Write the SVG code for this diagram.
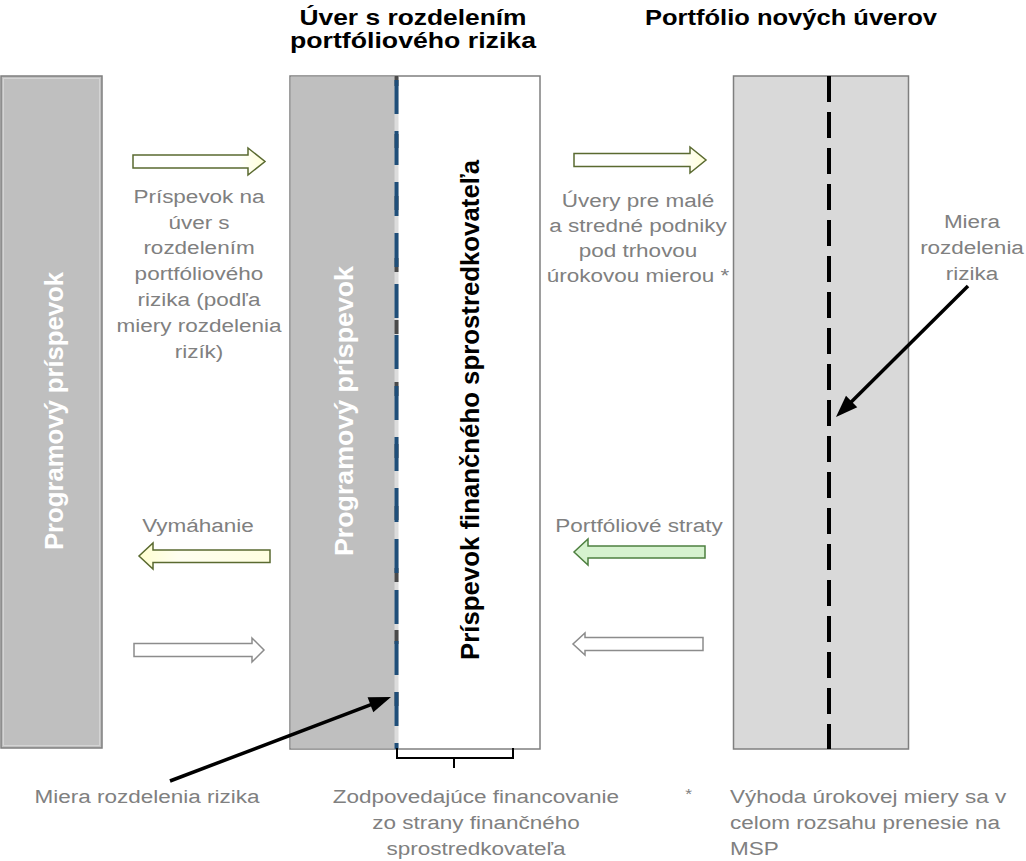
<svg xmlns="http://www.w3.org/2000/svg" width="1026" height="861" viewBox="0 0 1026 861">
<style>
.g{font-family:"Liberation Sans",Arial,sans-serif;font-size:18px;fill:#808080;text-anchor:middle}
.h{font-family:"Liberation Sans",Arial,sans-serif;font-size:22px;font-weight:bold;fill:#000;text-anchor:middle}
.v{font-family:"Liberation Sans",Arial,sans-serif;font-size:25px;font-weight:bold;text-anchor:middle}
.box{stroke:#7f7f7f;stroke-width:1.5}
.ol{stroke:#5a6a30;stroke-width:1.5}
.gr{stroke:#8c8c8c;stroke-width:1.5;fill:#fff}
.blk{stroke:#000;stroke-width:3.5;fill:none}
</style>
<defs>
<linearGradient id="yr" x1="0" x2="1" y1="0" y2="0"><stop offset="0" stop-color="#fff"/><stop offset="0.8" stop-color="#fff"/><stop offset="1" stop-color="#ffffd6"/></linearGradient>
<linearGradient id="yl" x1="0" x2="1" y1="0" y2="0"><stop offset="0" stop-color="#ffffd0"/><stop offset="0.3" stop-color="#fffff0"/><stop offset="1" stop-color="#ffffe0"/></linearGradient>
</defs>

<g id="headings">
<text class="h" x="413" y="25" textLength="227" lengthAdjust="spacingAndGlyphs">Úver s rozdelením</text>
<text class="h" x="413" y="48" textLength="246" lengthAdjust="spacingAndGlyphs">portfóliového rizika</text>
<text class="h" x="791" y="25" textLength="292" lengthAdjust="spacingAndGlyphs">Portfólio nových úverov</text>
</g>

<g id="left-bar">
<rect class="box" x="1" y="76" width="101" height="672" fill="#bfbfbf"/>
<rect x="3.5" y="78.5" width="96" height="667" fill="none" stroke="#d4d4d4" stroke-width="1"/>
<text class="v" fill="#fff" transform="translate(63,411) rotate(-90)" textLength="278" lengthAdjust="spacingAndGlyphs">Programový príspevok</text>
</g>

<g id="middle-box">
<rect class="box" x="290" y="76" width="250" height="673" fill="#fff"/>
<rect x="290.75" y="76.75" width="105.5" height="671.5" fill="#bfbfbf"/>
<line x1="396.5" y1="76" x2="396.5" y2="749" stroke="#dcdcdc" stroke-width="4"/>
<line x1="396.5" y1="76" x2="396.5" y2="749" stroke="#4a4a4a" stroke-width="4" stroke-dasharray="14 48" stroke-dashoffset="4"/>
<line x1="396.5" y1="80" x2="396.5" y2="749" stroke="#1f4e79" stroke-width="4" stroke-dasharray="34 17"/>
<text class="v" fill="#fff" transform="translate(353,411) rotate(-90)" textLength="290" lengthAdjust="spacingAndGlyphs">Programový príspevok</text>
<text class="v" fill="#000" transform="translate(479,410) rotate(-90)" textLength="500" lengthAdjust="spacingAndGlyphs">Príspevok finančného sprostredkovateľa</text>
</g>

<g id="right-box">
<rect class="box" x="733.5" y="76" width="175" height="673" fill="#d9d9d9"/>
<line x1="829" y1="76" x2="829" y2="749" stroke="#000" stroke-width="4" stroke-dasharray="26 10"/>
</g>

<g id="connectors">
<path class="ol" fill="url(#yr)" d="M133,155 H248 V148 L265,161.5 L248,175 V168 H133 Z"/>
<path class="ol" fill="url(#yr)" d="M574,153.5 H690 V147 L706,160 L690,173 V166.5 H574 Z"/>
<path class="ol" fill="url(#yl)" d="M270,550 H153 V543 L139,556 L153,569 V562.5 H270 Z"/>
<path class="gr" d="M134,643.5 H252 V638 L264,650 L252,662 V656.5 H134 Z"/>
<path fill="#d6f2cf" stroke="#4e8040" stroke-width="1.5" d="M705,546 H588 V539 L574,552 L588,565 V558 H705 Z"/>
<path class="gr" d="M703,637.5 H585 V633 L573,644 L585,655 V650.5 H703 Z"/>
<line class="blk" x1="170" y1="781" x2="372.3" y2="704.1"/>
<polygon fill="#000" points="391,697 373.27,712.3 367.59,697.34"/>
<line class="blk" x1="968" y1="286" x2="850.2" y2="402.9"/>
<polygon fill="#000" points="836,417 857.26,407.18 845.98,395.82"/>
<path d="M397,748 V758 H513 V748 M454,758 V768" fill="none" stroke="#000" stroke-width="2"/>
</g>

<g id="label-contribution" transform="translate(199,0) scale(1.25,1)">
<text class="g" x="0" y="203">Príspevok na</text>
<text class="g" x="0" y="229">úver s</text>
<text class="g" x="0" y="254.5">rozdelením</text>
<text class="g" x="0" y="280.5">portfóliového</text>
<text class="g" x="0" y="306">rizika (podľa</text>
<text class="g" x="0" y="332">miery rozdelenia</text>
<text class="g" x="0" y="358">rizík)</text>
</g>

<g id="label-loans" transform="translate(638,0) scale(1.25,1)">
<text class="g" x="0" y="207">Úvery pre malé</text>
<text class="g" x="0" y="232">a stredné podniky</text>
<text class="g" x="0" y="257">pod trhovou</text>
<text class="g" x="0" y="282">úrokovou mierou *</text>
</g>

<g id="label-risk-right" transform="translate(972,0) scale(1.25,1)">
<text class="g" x="0" y="228">Miera</text>
<text class="g" x="0" y="254">rozdelenia</text>
<text class="g" x="0" y="280">rizika</text>
</g>

<g id="label-recovery" transform="translate(198,0) scale(1.25,1)">
<text class="g" x="0" y="532">Vymáhanie</text>
</g>

<g id="label-losses" transform="translate(639,0) scale(1.25,1)">
<text class="g" x="0" y="532">Portfóliové straty</text>
</g>

<g id="label-risk-left" transform="translate(147,0) scale(1.25,1)">
<text class="g" x="0" y="803">Miera rozdelenia rizika</text>
</g>

<g id="label-matching" transform="translate(476,0) scale(1.25,1)">
<text class="g" x="0" y="803">Zodpovedajúce financovanie</text>
<text class="g" x="0" y="829">zo strany finančného</text>
<text class="g" x="0" y="855">sprostredkovateľa</text>
</g>

<g id="footnote" transform="translate(730,0) scale(1.25,1)">
<text class="g" x="-33" y="799" style="font-size:14px">*</text>
<text class="g" x="0" y="803" style="text-anchor:start">Výhoda úrokovej miery sa v</text>
<text class="g" x="0" y="829" style="text-anchor:start">celom rozsahu prenesie na</text>
<text class="g" x="0" y="855" style="text-anchor:start">MSP</text>
</g>
</svg>
